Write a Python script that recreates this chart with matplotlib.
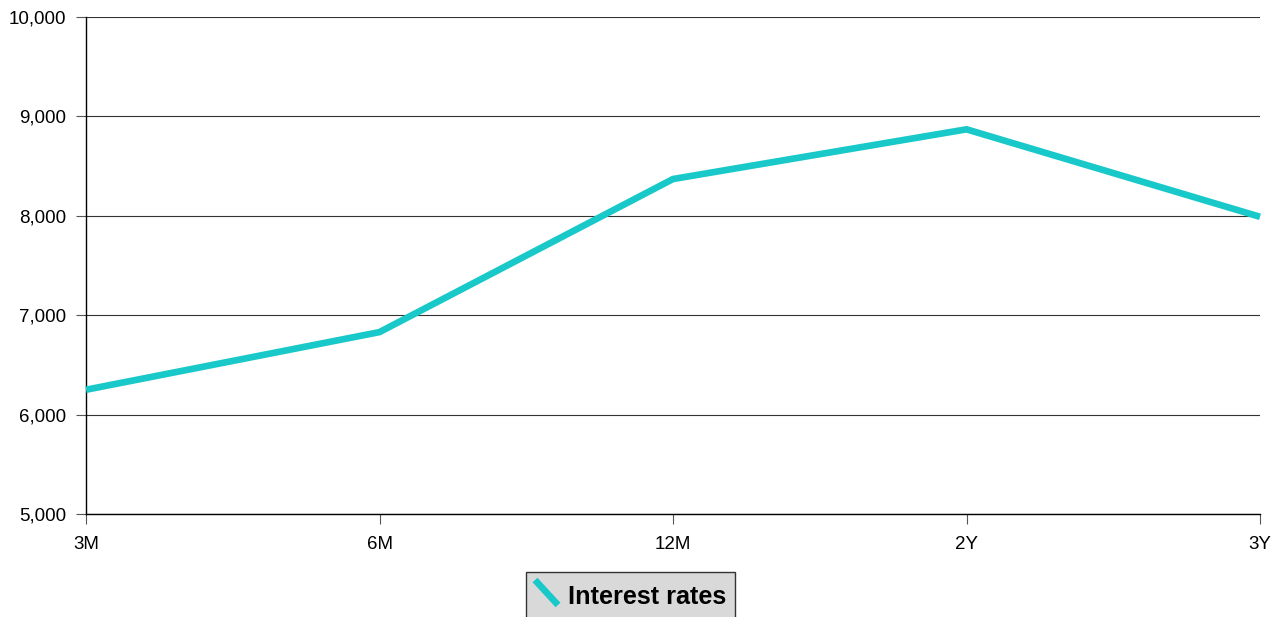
import matplotlib
matplotlib.use("Agg")
import matplotlib.pyplot as plt
from matplotlib.patches import Rectangle
from matplotlib.lines import Line2D
from matplotlib.ticker import FuncFormatter

categories = ["3M", "6M", "12M", "2Y", "3Y"]
values = [6250, 6830, 8370, 8870, 7990]
series_name = "Interest rates"
yticks = [5000, 6000, 7000, 8000, 9000, 10000]

plt.rcParams['font.family'] = ['Liberation Sans', 'DejaVu Sans']

W, H = 1284, 617
fig = plt.figure(figsize=(W / 100, H / 100), dpi=100)
ax = fig.add_axes([86 / W, 1 - 514 / H, (1260 - 86) / W, (514 - 17) / H])

color = "#19C9C9"
x = list(range(len(categories)))
ax.plot(x, values, color=color, lw=4.8, solid_capstyle="butt", solid_joinstyle="miter", zorder=3, clip_on=False)

ax.set_xlim(0, len(categories) - 1)
ax.set_ylim(5000, 10000)
ax.set_xticks(x)
ax.set_xticklabels(categories)
ax.set_yticks(yticks)
ax.yaxis.set_major_formatter(FuncFormatter(lambda v, p: f"{int(v):,}"))
ax.grid(axis="y", color="#333333", lw=0.8)
ax.set_axisbelow(True)
for s in ["top", "right"]:
    ax.spines[s].set_visible(False)
ax.spines["left"].set_color("black")
ax.spines["bottom"].set_color("black")
ax.spines["left"].set_linewidth(1.0)
ax.spines["bottom"].set_linewidth(1.0)
ax.tick_params(axis="both", direction="out", length=7.5, width=0.8, color="#555555", labelsize=13.5)
ax.tick_params(axis="y", pad=7)
ax.tick_params(axis="x", pad=8)

# legend box
lx0, lx1, ly0, ly1 = 526, 735, 572, 622
rect = Rectangle((lx0 / W, 1 - ly1 / H), (lx1 - lx0) / W, (ly1 - ly0) / H,
                 transform=fig.transFigure, facecolor="#D9D9D9", edgecolor="#333333", lw=1.0, clip_on=False)
fig.add_artist(rect)
fig.add_artist(Line2D([535 / W, 558 / W], [1 - 580 / H, 1 - 605 / H], transform=fig.transFigure,
                      color=color, lw=4.8, solid_capstyle="butt"))
fig.text(568 / W, 1 - 597 / H, series_name, fontsize=18.2, fontweight="bold", va="center", ha="left")

fig.savefig("out.png", dpi=100)
